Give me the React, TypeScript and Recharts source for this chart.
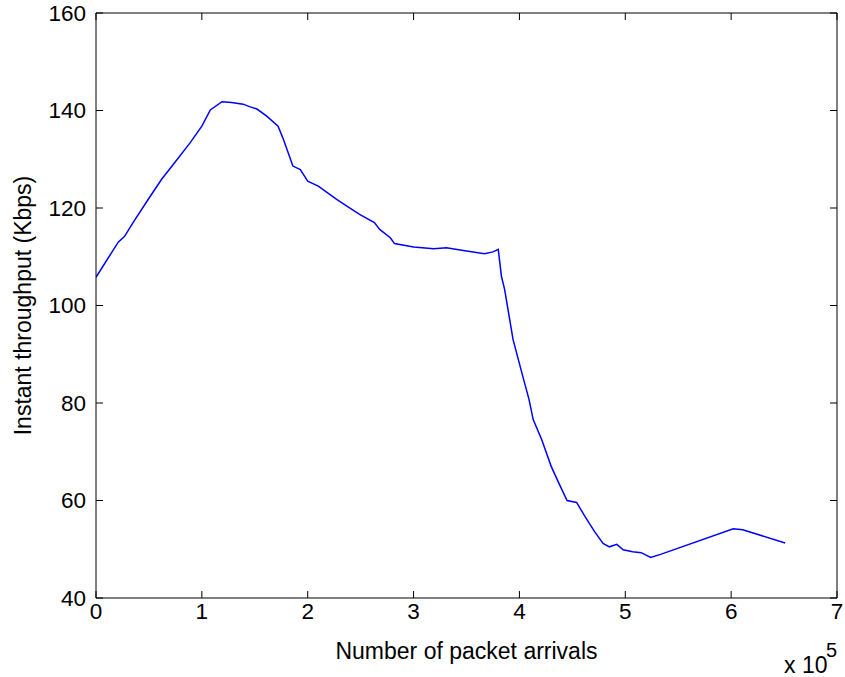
import { LineChart, Line, XAxis, YAxis, Label } from "recharts";

// packet arrivals (x 1e5) and instant throughput (Kbps)
const arrivals = [
  0.0, 0.21, 0.27, 0.35, 0.5, 0.62, 0.75, 0.89, 1.0, 1.08, 1.19, 1.28, 1.39, 1.45,
  1.52, 1.61, 1.72, 1.77, 1.86, 1.93, 2.0, 2.1, 2.27, 2.37, 2.49, 2.63, 2.68, 2.78,
  2.82, 3.0, 3.19, 3.31, 3.47, 3.67, 3.75, 3.8, 3.83, 3.86, 3.94, 4.04, 4.09, 4.13,
  4.21, 4.3, 4.38, 4.45, 4.54, 4.62, 4.71, 4.79, 4.85, 4.92, 4.98, 5.07, 5.15, 5.24,
  5.34, 6.02, 6.11, 6.51,
];
const throughput = [
  105.8, 113.0, 114.2, 117.0, 122.0, 125.9, 129.5, 133.4, 136.8, 140.1, 141.8, 141.65, 141.3, 140.8,
  140.3, 138.9, 136.8, 134.1, 128.6, 127.9, 125.5, 124.5, 121.8, 120.4, 118.7, 117.0, 115.6, 113.9,
  112.7, 112.0, 111.65, 111.85, 111.3, 110.6, 111.0, 111.5, 106.0, 103.3, 93.0, 84.8, 80.8, 76.6,
  72.5, 67.0, 63.2, 60.0, 59.6, 56.7, 53.6, 51.2, 50.5, 51.0, 49.9, 49.5, 49.3, 48.3,
  49.0, 54.2, 54.0, 51.3,
];
const xTicks = [0, 1, 2, 3, 4, 5, 6, 7];
const yTicks = [40, 60, 80, 100, 120, 140, 160];

const data = arrivals.map((a, i) => ({ x: a, y: throughput[i] }));

const FONT = "'Liberation Sans', Arial, Helvetica, sans-serif";
const tickStyle = { fontSize: 22.5, fill: "#000", fontFamily: FONT };
const blank = () => "";

export default function App() {
  return (
    <div style={{ position: "absolute", left: 0, top: 0, width: 845, height: 677, background: "#fff" }}>
      <LineChart width={845} height={677} data={data} margin={{ top: 13, right: 8, left: 0, bottom: 0 }}>
        {/* labelled axes (bottom / left) */}
        <XAxis
          dataKey="x"
          type="number"
          domain={[0, 7]}
          allowDataOverflow
          ticks={xTicks}
          interval={0}
          height={79}
          stroke="#000"
          tickLine={false}
          tickSize={-7}
          tickMargin={12}
          tick={tickStyle}
        >
          <Label
            content={({ viewBox }: any) => (
              <g fontFamily={FONT} fill="#000">
                <text x={viewBox.x + viewBox.width / 2} y={659} fontSize={23} textAnchor="middle">
                  Number of packet arrivals
                </text>
                <text x={viewBox.x + viewBox.width - 53} y={673} fontSize={23}>
                  x 10
                </text>
                <text x={viewBox.x + viewBox.width - 11} y={657} fontSize={20}>
                  5
                </text>
              </g>
            )}
          />
        </XAxis>
        <YAxis
          type="number"
          domain={[40, 160]}
          allowDataOverflow
          ticks={yTicks}
          interval={0}
          width={96}
          stroke="#000"
          tickLine={false}
          tickSize={-7}
          tickMargin={17}
          tick={tickStyle}
        >
          <Label
            content={({ viewBox }: any) => {
              const cy = viewBox.y + viewBox.height / 2;
              return (
                <text
                  x={31}
                  y={cy}
                  transform={`rotate(-90 31 ${cy})`}
                  textAnchor="middle"
                  fontSize={23}
                  fontFamily={FONT}
                  fill="#000"
                >
                  Instant throughput (Kbps)
                </text>
              );
            }}
          />
        </YAxis>
        {/* inward ticks on all four sides + top/right box lines */}
        <XAxis
          xAxisId="bin"
          dataKey="x"
          orientation="bottom"
          mirror
          type="number"
          domain={[0, 7]}
          allowDataOverflow
          ticks={xTicks}
          interval={0}
          axisLine={false}
          stroke="#000"
          tickSize={7}
          tickFormatter={blank}
        />
        <XAxis
          xAxisId="top"
          dataKey="x"
          orientation="top"
          mirror
          type="number"
          domain={[0, 7]}
          allowDataOverflow
          ticks={xTicks}
          interval={0}
          stroke="#000"
          tickSize={7}
          tickFormatter={blank}
        />
        <YAxis
          yAxisId="lin"
          dataKey="y"
          orientation="left"
          mirror
          type="number"
          domain={[40, 160]}
          allowDataOverflow
          ticks={yTicks}
          interval={0}
          axisLine={false}
          stroke="#000"
          tickSize={7}
          tickFormatter={blank}
        />
        <YAxis
          yAxisId="right"
          dataKey="y"
          orientation="right"
          mirror
          type="number"
          domain={[40, 160]}
          allowDataOverflow
          ticks={yTicks}
          interval={0}
          stroke="#000"
          tickSize={7}
          tickFormatter={blank}
        />
        <Line
          type="linear"
          dataKey="y"
          stroke="#0000ff"
          strokeWidth={1.5}
          dot={false}
          isAnimationActive={false}
        />
      </LineChart>
    </div>
  );
}
